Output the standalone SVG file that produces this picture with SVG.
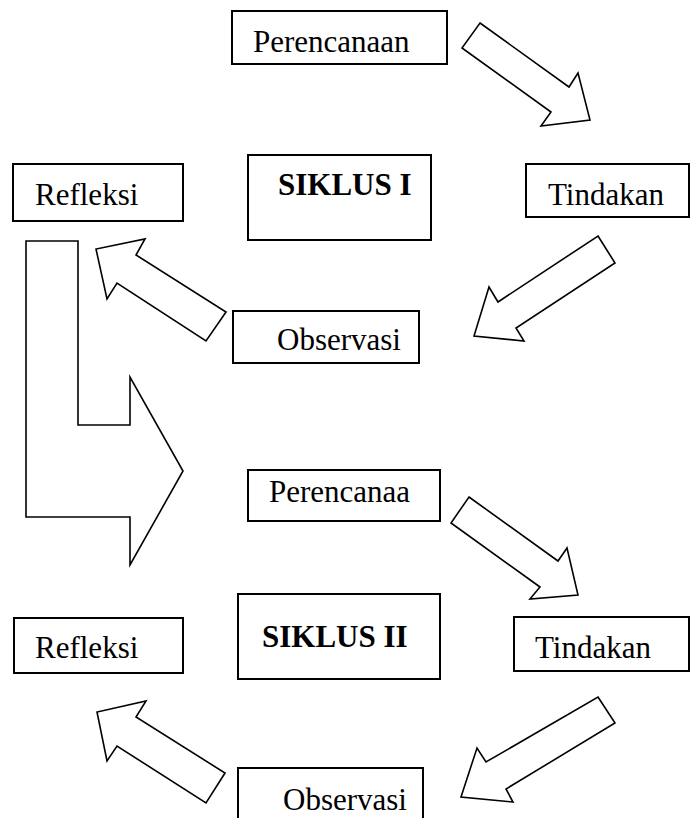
<svg xmlns="http://www.w3.org/2000/svg" width="690" height="818" viewBox="0 0 690 818">
<style>
.box{fill:#fff;stroke:#000;stroke-width:2}
.arr{fill:#fff;stroke:#000;stroke-width:1.6;stroke-linejoin:miter}
.t{font-family:"Liberation Serif","Times New Roman",serif;font-size:31px;fill:#000}
.b{font-weight:bold}
</style>
<rect width="690" height="818" fill="#fff"/>
<g id="connectors">
<polygon class="arr" points="480,23 569,87 578,73 590,120 541,126 551,112 462,48"/>
<polygon class="arr" points="598,236 615,263 516,328 524,341 474,336 489,287 498,302"/>
<polygon class="arr" points="226,312 206,341 117,283 107,299 96,249 145,239 136,255"/>
<polygon class="arr" points="26,241 78,241 78,425 130,425 130,377 183,471 130,565 130,517 26,517"/>
<polygon class="arr" points="469,497 558,561 567,548 578,595 530,599 540,587 451,523"/>
<polygon class="arr" points="598,697 615,723 506,789 513,802 461,797 477,748 486,762"/>
<polygon class="arr" points="225,773 206,803 117,746 107,761 97,712 146,701 136,717"/>
</g>
<g id="perencanaan1"><rect class="box" x="232" y="11" width="215" height="53"/><text class="t" x="253" y="52">Perencanaan</text></g>
<g id="refleksi1"><rect class="box" x="13" y="164" width="170" height="57"/><text class="t" x="35" y="205">Refleksi</text></g>
<g id="siklus1"><rect class="box" x="248" y="155" width="183" height="85"/><text class="t b" x="278" y="195">SIKLUS I</text></g>
<g id="tindakan1"><rect class="box" x="526" y="164" width="163" height="53"/><text class="t" x="548" y="205">Tindakan</text></g>
<g id="observasi1"><rect class="box" x="233" y="311" width="186" height="52"/><text class="t" x="277" y="350">Observasi</text></g>
<g id="perencanaa2"><rect class="box" x="248" y="470" width="192" height="51"/><text class="t" x="269" y="502">Perencanaa</text></g>
<g id="refleksi2"><rect class="box" x="14" y="618" width="169" height="55"/><text class="t" x="35" y="658">Refleksi</text></g>
<g id="siklus2"><rect class="box" x="238" y="594" width="202" height="85"/><text class="t b" x="262" y="647">SIKLUS II</text></g>
<g id="tindakan2"><rect class="box" x="514" y="617" width="175" height="54"/><text class="t" x="535" y="658">Tindakan</text></g>
<g id="observasi2"><rect class="box" x="238" y="768" width="185" height="60"/><text class="t" x="283" y="810">Observasi</text></g>
</svg>
